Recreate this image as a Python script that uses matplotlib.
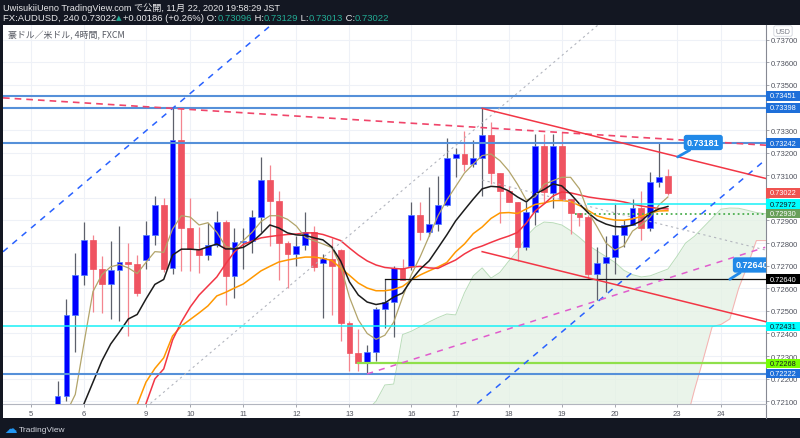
import matplotlib
matplotlib.use("Agg")
import matplotlib.pyplot as plt
import matplotlib.transforms as mtransforms
from matplotlib.patches import Rectangle
from matplotlib.lines import Line2D
import numpy as np

# ---------------- data ----------------
bar_start = 3  # index of first drawn 4h bar (index 0 = Nov 5 03:00 JST)
opens = [0.72030, 0.72125, 0.72483, 0.72660, 0.72815, 0.72685, 0.72619, 0.72681, 0.72718, 0.72707,
         0.72727, 0.72837, 0.72969, 0.72690, 0.73258, 0.72868, 0.72774, 0.72749, 0.72793, 0.72895,
         0.72653, 0.72803, 0.72811, 0.72914, 0.73081, 0.72988, 0.72800, 0.72752, 0.72792, 0.72850,
         0.72711, 0.72730, 0.72769, 0.72445, 0.72312, 0.72270, 0.72320, 0.72508, 0.72541, 0.72688,
         0.72700, 0.72924, 0.72850, 0.72884, 0.72969, 0.73177, 0.73193, 0.73150, 0.73177, 0.73280,
         0.73110, 0.73029, 0.72980, 0.72784, 0.72939, 0.73231, 0.73022, 0.73228, 0.72996, 0.72932,
         0.72917, 0.72663, 0.72712, 0.72740, 0.72836, 0.72880, 0.72954, 0.72865, 0.73072, 0.73096]
highs = [0.72191, 0.72553, 0.72756, 0.72895, 0.72837, 0.72744, 0.72810, 0.72877, 0.72800, 0.72749,
         0.72896, 0.73007, 0.72998, 0.73396, 0.73396, 0.72998, 0.72870, 0.72889, 0.72943, 0.72904,
         0.72866, 0.72866, 0.72948, 0.73182, 0.73146, 0.73030, 0.72811, 0.72833, 0.72936, 0.72877,
         0.72752, 0.72821, 0.72775, 0.72457, 0.72420, 0.72349, 0.72516, 0.72641, 0.72700, 0.72730,
         0.72980, 0.72980, 0.73047, 0.73096, 0.73264, 0.73220, 0.73295, 0.73256, 0.73396, 0.73335,
         0.73110, 0.73054, 0.72980, 0.72980, 0.73283, 0.73283, 0.73283, 0.73290, 0.72996, 0.72932,
         0.72924, 0.72781, 0.72833, 0.72973, 0.72900, 0.72995, 0.73032, 0.73113, 0.73243, 0.73129]
lows = [0.72000, 0.72100, 0.72317, 0.72615, 0.72494, 0.72491, 0.72464, 0.72457, 0.72390, 0.72567,
        0.72685, 0.72792, 0.72673, 0.72663, 0.72678, 0.72678, 0.72666, 0.72727, 0.72781, 0.72526,
        0.72556, 0.72685, 0.72755, 0.72848, 0.72788, 0.72637, 0.72600, 0.72700, 0.72770, 0.72678,
        0.72467, 0.72482, 0.72368, 0.72235, 0.72235, 0.72221, 0.72280, 0.72423, 0.72383, 0.72638,
        0.72680, 0.72815, 0.72833, 0.72855, 0.72965, 0.73091, 0.73118, 0.73135, 0.73007, 0.73061,
        0.72889, 0.72980, 0.72722, 0.72771, 0.72880, 0.72980, 0.72954, 0.72990, 0.72840, 0.72877,
        0.72640, 0.72550, 0.72582, 0.72663, 0.72781, 0.72880, 0.72815, 0.72855, 0.73047, 0.73013]
closes = [0.72125, 0.72483, 0.72660, 0.72815, 0.72685, 0.72619, 0.72681, 0.72718, 0.72707, 0.72579,
          0.72837, 0.72969, 0.72685, 0.73258, 0.72868, 0.72774, 0.72749, 0.72793, 0.72895, 0.72653,
          0.72803, 0.72811, 0.72914, 0.73081, 0.72988, 0.72800, 0.72752, 0.72788, 0.72850, 0.72693,
          0.72733, 0.72700, 0.72445, 0.72312, 0.72270, 0.72320, 0.72508, 0.72541, 0.72688, 0.72638,
          0.72924, 0.72850, 0.72884, 0.72969, 0.73177, 0.73193, 0.73150, 0.73177, 0.73280, 0.73110,
          0.73029, 0.72980, 0.72784, 0.72939, 0.73231, 0.73026, 0.73228, 0.72996, 0.72932, 0.72917,
          0.72663, 0.72712, 0.72740, 0.72836, 0.72880, 0.72954, 0.72865, 0.73072, 0.73094, 0.73022]

# moving averages, with their first bar index
ma_olive_start = 4
ma_olive = [0.72050, 0.72130, 0.72360, 0.72585, 0.72660, 0.72695, 0.72705, 0.72690, 0.72665, 0.72715,
            0.72762, 0.72759, 0.72862, 0.72921, 0.72915, 0.72880, 0.72890, 0.72848, 0.72785, 0.72774,
            0.72811, 0.72848, 0.72895, 0.72921, 0.72921, 0.72905, 0.72875, 0.72825, 0.72810, 0.72796,
            0.72780, 0.72700, 0.72560, 0.72460, 0.72400, 0.72374, 0.72392, 0.72450, 0.72560, 0.72660,
            0.72740, 0.72830, 0.72920, 0.72990, 0.73050, 0.73110, 0.73150, 0.73187, 0.73194, 0.73165,
            0.73120, 0.73060, 0.72990, 0.73005, 0.73060, 0.73076, 0.73091, 0.73091, 0.73040, 0.72937,
            0.72871, 0.72800, 0.72769, 0.72787, 0.72853, 0.72880, 0.72915, 0.72969, 0.73004]
ma_black_start = 6
ma_black = [0.72090, 0.72184, 0.72278, 0.72353, 0.72407, 0.72464, 0.72484, 0.72553, 0.72617, 0.72639,
            0.72747, 0.72773, 0.72773, 0.72770, 0.72783, 0.72796, 0.72774, 0.72774, 0.72781, 0.72805,
            0.72840, 0.72880, 0.72867, 0.72845, 0.72836, 0.72834, 0.72823, 0.72814, 0.72783, 0.72721,
            0.72628, 0.72570, 0.72539, 0.72528, 0.72535, 0.72561, 0.72579, 0.72637, 0.72685, 0.72721,
            0.72778, 0.72836, 0.72898, 0.72947, 0.72995, 0.73040, 0.73051, 0.73048, 0.73031, 0.73004,
            0.72982, 0.73017, 0.73037, 0.73062, 0.73053, 0.73017, 0.72973, 0.72933, 0.72902, 0.72884,
            0.72873, 0.72871, 0.72880, 0.72898, 0.72933, 0.72951, 0.72962]
ma_red_start = 13
ma_red = [0.72090, 0.72199, 0.72243, 0.72371, 0.72451, 0.72517, 0.72570, 0.72610, 0.72650, 0.72708,
          0.72761, 0.72794, 0.72809, 0.72823, 0.72829, 0.72834, 0.72838, 0.72840, 0.72845, 0.72845,
          0.72838, 0.72825, 0.72811, 0.72778, 0.72747, 0.72721, 0.72703, 0.72692, 0.72688, 0.72685,
          0.72694, 0.72697, 0.72690, 0.72688, 0.72707, 0.72725, 0.72752, 0.72774, 0.72787, 0.72803,
          0.72818, 0.72831, 0.72847, 0.72889, 0.72942, 0.72973, 0.73008, 0.73026, 0.73022, 0.73013,
          0.73004, 0.72998, 0.72993, 0.72989, 0.72982, 0.72973, 0.72964, 0.72958, 0.72953, 0.72951]
ma_orange_start = 12
ma_orange = [0.72085, 0.72185, 0.72245, 0.72292, 0.72389, 0.72433, 0.72462, 0.72491, 0.72522, 0.72566,
             0.72582, 0.72601, 0.72619, 0.72648, 0.72677, 0.72697, 0.72716, 0.72725, 0.72732, 0.72738,
             0.72738, 0.72732, 0.72723, 0.72690, 0.72657, 0.72623, 0.72601, 0.72589, 0.72589, 0.72595,
             0.72608, 0.72637, 0.72659, 0.72677, 0.72694, 0.72714, 0.72761, 0.72796, 0.72842, 0.72871,
             0.72909, 0.72933, 0.72935, 0.72931, 0.72951, 0.72971, 0.72977, 0.72988, 0.72988, 0.72984,
             0.72966, 0.72944, 0.72920, 0.72909, 0.72902, 0.72901, 0.72907, 0.72918, 0.72933, 0.72942,
             0.72943]

# ichimoku-style cloud spans (bar 36 .. 84)
cloud_start = 36
span_a = [0.71980, 0.72020, 0.72060, 0.72100, 0.72172, 0.72176, 0.72395, 0.72410, 0.72430, 0.72451,
          0.72470, 0.72486, 0.72482, 0.72580, 0.72655, 0.72690, 0.72645, 0.72670, 0.72720, 0.72765,
          0.72830, 0.72870, 0.72893, 0.72890, 0.72880, 0.72855, 0.72825, 0.72790, 0.72765, 0.72740,
          0.72715, 0.72680, 0.72660, 0.72650, 0.72655, 0.72670, 0.72685, 0.72740, 0.72800, 0.72830,
          0.72870, 0.72910, 0.72950, 0.72955, 0.72954, 0.72945, 0.72935, 0.72930, 0.72930]
span_b = [0.71700, 0.71700, 0.71700, 0.71700, 0.71700, 0.71700, 0.71700, 0.71700, 0.71700, 0.71700,
          0.71700, 0.71700, 0.71700, 0.71700, 0.71700, 0.71780, 0.71780, 0.71780, 0.71780, 0.71780,
          0.71780, 0.71780, 0.71780, 0.71780, 0.71780, 0.71880, 0.71880, 0.71880, 0.71880, 0.71880,
          0.71880, 0.71880, 0.71880, 0.71880, 0.71880, 0.71880, 0.71880, 0.71880, 0.72000, 0.72150,
          0.72287, 0.72430, 0.72440, 0.72464, 0.72600, 0.72700, 0.72811, 0.72811, 0.72811]

# date axis
date_tick_pos = [0, 6, 13, 18, 24, 30, 36, 43, 48, 54, 60, 66, 73, 78]
date_tick_labels = ["5", "6", "9", "10", "11", "12", "13", "16", "17", "18", "19", "20", "23", "24"]
price_ticks = [0.721, 0.722, 0.723, 0.724, 0.725, 0.726, 0.727, 0.728, 0.729,
               0.730, 0.731, 0.732, 0.733, 0.734, 0.735, 0.736, 0.737]
hidden_tick_labels = [0.730, 0.734]   # covered by price tags in the reference

# horizontal drawing lines: price, first bar (None = full width)
hline_prices = [0.73451, 0.73398, 0.73242, 0.72222, 0.72431, 0.72268, 0.72972, 0.72930, 0.72640]
hline_starts = [None, None, None, None, None, 37, 63, 61.5, 40]

# trend-line anchors
channel_anchor = (16, 0.73396)      # blue parallel channel upper line through this high
channel_slope = 3.31e-4             # price per bar
channel_offsets = [0.0, -0.01223, -0.02446]
red_dash_anchor = (16, 0.73396)
red_dash_slope = -2.43e-5
red_chan_anchor = (51, 0.73396)
red_chan_slope = -9.67e-5
red_chan_offsets = [0.0, -0.00317, -0.00634]
pink_anchor = (38, 0.72221)
pink_slope = 1.245e-4
pink_end = 83

# right-axis price labels
axis_labels = [0.73451, 0.73398, 0.73242, 0.73022, 0.72972, 0.72930, 0.72640, 0.72431, 0.72268, 0.72222]

# ---------------- figure ----------------
W, H = 800.0, 439.0
fig = plt.figure(figsize=(8.0, 4.39), dpi=100)
fig.patch.set_facecolor('#131722')

def fx(px):
    return px / W

def fy(py):
    return 1 - py / H

fig.add_artist(Rectangle((fx(3), fy(419)), (800 - 3) / W, (419 - 26) / H,
                         transform=fig.transFigure, fc='white', ec='none', zorder=-10))
fig.add_artist(Line2D([fx(766), fx(766)], [fy(404.5), fy(419)], transform=fig.transFigure,
                      color='#868993', lw=0.8, zorder=-5))

ax = fig.add_axes([fx(3), fy(404.5), (766 - 3) / W, (404.5 - 26) / H])
ax.set_facecolor('white')
ax.set_xlim(-3.17, 83.09)
ax.set_ylim(0.72090, 0.73765)

FONT = ['Liberation Sans', 'Noto Sans CJK JP', 'DejaVu Sans']

ax.set_xticks(date_tick_pos)
ax.set_xticklabels(date_tick_labels)
ax.yaxis.tick_right()
ax.set_yticks(price_ticks)
ax.set_yticklabels(["" if any(abs(v - hv) < 1e-9 for hv in hidden_tick_labels) else f"{v:.5f}"
                    for v in price_ticks])
ax.tick_params(axis='y', length=2.5, width=0.6, colors='#9598a1', labelcolor='#50535e',
               labelsize=5.5, pad=1.2, left=False, right=True)
ax.tick_params(axis='x', length=2, width=0.6, colors='#9598a1', labelcolor='#50535e',
               labelsize=5.5, pad=3)
for lbl in ax.get_xticklabels() + ax.get_yticklabels():
    lbl.set_fontfamily(FONT)
for s in ['left', 'top']:
    ax.spines[s].set_visible(False)
ax.spines['right'].set_color('#868993')
ax.spines['right'].set_linewidth(0.8)
ax.spines['bottom'].set_color('#b2b5be')
ax.spines['bottom'].set_linewidth(0.8)
ax.set_axisbelow(True)
ax.grid(True, color='#eef1f7', lw=0.8)

# cloud
cidx = np.arange(cloud_start, cloud_start + len(span_a))
sa = np.array(span_a)
sb = np.array(span_b)
ax.fill_between(cidx, sa, sb, color='#e4f1e4', alpha=0.75, lw=0, zorder=1)
ax.plot(cidx, sa, color='#b9dcb9', lw=0.7, zorder=1.2)
ax.plot(cidx, sb, color='#f7b0b0', lw=0.7, zorder=1.2)

# candles
idx = np.arange(bar_start, bar_start + len(opens))
o = np.array(opens); h = np.array(highs); l = np.array(lows); c = np.array(closes)
up = c >= o
body_col = np.where(up, '#0000ff', '#ef5361')
edge_col = np.where(up, '#4d7dff', '#ef5361')
wick_col = np.where(up, '#5d606b', '#f4858f')
ax.vlines(idx, l, h, colors=wick_col, lw=0.9, zorder=3)
ax.bar(idx, np.maximum(np.abs(c - o), 0.00004), bottom=np.minimum(o, c), width=0.66,
       color=body_col, edgecolor=edge_col, lw=0.5, zorder=4)

# moving averages
ax.plot(np.arange(ma_orange_start, ma_orange_start + len(ma_orange)), ma_orange,
        color='#ff9800', lw=1.1, zorder=4.5)
ax.plot(np.arange(ma_red_start, ma_red_start + len(ma_red)), ma_red,
        color='#f23645', lw=1.1, zorder=4.6)
ax.plot(np.arange(ma_olive_start, ma_olive_start + len(ma_olive)), ma_olive,
        color='#b2a46a', lw=0.9, zorder=4.7)
ax.plot(np.arange(ma_black_start, ma_black_start + len(ma_black)), ma_black,
        color='#1c1c1c', lw=1.1, zorder=4.8)

# horizontal lines
BLUE_LINE = '#5590d9'
hcolors = [BLUE_LINE, BLUE_LINE, BLUE_LINE, BLUE_LINE, '#19f0f7', '#8fe04a', '#19f0f7', '#4caf50', '#111111']
hstyles = ['-', '-', '-', '-', '-', '-', '-', ':', '-']
hwidths = [1.5, 1.5, 1.5, 1.5, 1.1, 1.6, 1.1, 1.3, 0.9]
xr = ax.get_xlim()[1] + 5
for p, st, col, ls, lw in zip(hline_prices, hline_starts, hcolors, hstyles, hwidths):
    if st is None:
        ax.axhline(p, color=col, ls=ls, lw=lw, zorder=5)
    else:
        ax.plot([st, xr], [p, p], color=col, ls=ls, lw=lw, zorder=5)

# blue parallel channel (dashed) with grey midline
for off in channel_offsets:
    if off == channel_offsets[1]:
        ax.axline((channel_anchor[0], channel_anchor[1] + off), slope=channel_slope,
                  color='#b2b5be', lw=0.8, ls=(0, (2, 3)), zorder=5)
    else:
        ax.axline((channel_anchor[0], channel_anchor[1] + off), slope=channel_slope,
                  color='#2962ff', lw=1.1, ls=(0, (4, 4)), zorder=5)

# red dashed resistance
ax.axline(red_dash_anchor, slope=red_dash_slope, color='#f0456a', lw=1.2,
          ls=(0, (4, 3)), zorder=5)

# red descending channel from bar 51
rx = np.array([red_chan_anchor[0], xr])
for k, off in enumerate(red_chan_offsets):
    ry = red_chan_anchor[1] + off + red_chan_slope * (rx - red_chan_anchor[0])
    if k == 1:
        ax.plot(rx, ry, color='#b2b5be', lw=0.8, ls=(0, (2, 3)), zorder=5)
    else:
        ax.plot(rx, ry, color='#f23645', lw=1.1, zorder=5)

# pink dashed support
px_ = np.array([pink_anchor[0], pink_end])
ax.plot(px_, pink_anchor[1] + pink_slope * (px_ - pink_anchor[0]), color='#e05ccd',
        lw=1.1, ls=(0, (4, 4)), zorder=5)

# callouts
CALLOUT = '#2189e8'
ax.annotate("0.73181", xy=(73.1, 0.73181), xytext=(76.0, 0.73245), ha='center', va='center',
            fontsize=6.5, color='white', fontweight='bold', family=FONT, zorder=8,
            bbox=dict(boxstyle='round,pad=0.35,rounding_size=0.3', fc=CALLOUT, ec='none'),
            arrowprops=dict(arrowstyle='-', color=CALLOUT, lw=2, shrinkA=0, shrinkB=0))
t2 = ax.annotate("0.72640", xy=(79.0, 0.72640), xytext=(79.7, 0.72703), ha='left', va='center',
                 fontsize=6.5, color='white', fontweight='bold', family=FONT, zorder=8,
                 bbox=dict(boxstyle='round,pad=0.35,rounding_size=0.3', fc=CALLOUT, ec='none'),
                 arrowprops=dict(arrowstyle='-', color=CALLOUT, lw=2, shrinkA=0, shrinkB=0))
t2.set_clip_on(True)
t2.set_clip_box(ax.bbox)

# right-axis price labels
blend = mtransforms.blended_transform_factory(ax.transAxes, ax.transData)
lab_bg = ['#1e6fd9', '#1e6fd9', '#1e6fd9', '#ef5350', '#00ffff', '#689f5a', '#000000',
          '#00ffff', '#76ff03', '#1e6fd9']
lab_fg = ['white', 'white', 'white', 'white', '#131722', 'white', 'white',
          '#131722', '#131722', 'white']
axw = 766 - 3
box_h = 0.00042
for p, bg, fg in zip(axis_labels, lab_bg, lab_fg):
    ax.add_patch(Rectangle((1.0, p - box_h / 2), 34 / axw, box_h, transform=blend,
                           fc=bg, ec='none', clip_on=False, zorder=20))
    ax.text(1.0 + 3.5 / axw, p, f"{p:.5f}", transform=blend, ha='left', va='center',
            fontsize=5.3, color=fg, family=FONT, clip_on=False, zorder=21)

# USD tag
fig.text(fx(783), fy(32), "USD", ha='center', va='center', fontsize=5, color='#787b86',
         family=FONT, bbox=dict(boxstyle='round,pad=0.25', fc='white', ec='#d1d4dc', lw=0.6))

# legend text inside chart
fig.text(fx(8), fy(38), "豪ドル／米ドル, 4時間, FXCM", ha='left', va='baseline', fontsize=6.4,
         color='#555861', family=['Noto Sans CJK JP', 'DejaVu Sans'])

# header
fig.text(fx(3), fy(10.6), "UwisukiiUeno TradingView.com で公開, 11月 22, 2020 19:58:29 JST",
         ha='left', va='baseline', fontsize=6.6, color='#e8e8ea', family=FONT)
TEAL = '#22ab94'
segments = [("FX:AUDUSD, 240 0.73022", '#e8e8ea'), ("▲", TEAL), ("+0.00186 (+0.26%) O:", '#e8e8ea'),
            ("0.73096", TEAL), (" H:", '#e8e8ea'), ("0.73129", TEAL), (" L:", '#e8e8ea'),
            ("0.73013", TEAL), (" C:", '#e8e8ea'), ("0.73022", TEAL)]
renderer = fig.canvas.get_renderer()
xpos = 3.0
for s, col in segments:
    fam = ['DejaVu Sans'] if s == "▲" else FONT
    t = fig.text(fx(xpos), fy(20.6), s, ha='left', va='baseline',
                 fontsize=6.8 if s != "▲" else 5.2, color=col, family=fam)
    bb = t.get_window_extent(renderer)
    xpos += bb.width + (1.5 if s == "▲" else 0.0)

# bottom TradingView mark
fig.text(fx(4), fy(433), "☁", ha='left', va='baseline', fontsize=9, color='#2196f3',
         family=['DejaVu Sans'])
fig.text(fx(19), fy(432), "TradingView", ha='left', va='baseline', fontsize=6,
         color='#d1d4dc', family=FONT)

fig.savefig("out.png", dpi=100, facecolor=fig.get_facecolor())
